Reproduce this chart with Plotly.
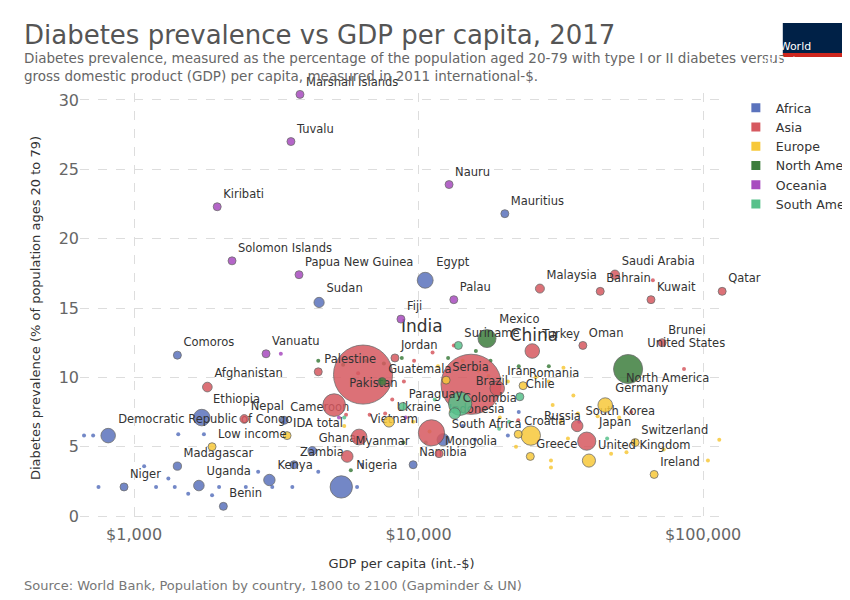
import plotly.graph_objects as go

# labelled countries: name, continent, gdp per capita, diabetes %, population (millions)
names = ["Marshall Islands", "Tuvalu", "Nauru", "Mauritius", "Kiribati", "Solomon Islands",
         "Papua New Guinea", "Egypt", "Saudi Arabia", "Malaysia", "Bahrain", "Kuwait", "Qatar",
         "Sudan", "Palau", "Fiji", "Mexico", "Suriname", "Turkey", "Oman", "Brunei", "Comoros",
         "Vanuatu", "India", "Jordan", "China", "United States", "Afghanistan", "Palestine",
         "Guatemala", "Serbia", "Iran", "Romania", "Pakistan", "Chile", "Germany", "Paraguay",
         "Brazil", "Colombia", "Ethiopia", "Nepal", "Cameroon", "Ukraine", "Indonesia",
         "South Korea", "Russia", "Croatia", "Japan", "Vietnam", "South Africa", "Mongolia",
         "Switzerland", "Greece", "United Kingdom", "Ireland", "Namibia",
         "Democratic Republic of Congo", "IDA total", "Low income", "Ghana", "Madagascar",
         "Zambia", "Myanmar", "Kenya", "Nigeria", "Niger", "Uganda", "Benin"]
continents = ["Oceania", "Oceania", "Oceania", "Africa", "Oceania", "Oceania",
              "Oceania", "Africa", "Asia", "Asia", "Asia", "Asia", "Asia",
              "Africa", "Oceania", "Oceania", "North America", "South America", "Asia", "Asia", "Asia", "Africa",
              "Oceania", "Asia", "Asia", "Asia", "North America", "Asia", "Asia",
              "North America", "Europe", "Asia", "Europe", "Asia", "South America", "Europe", "South America",
              "South America", "South America", "Africa", "Asia", "Africa", "Europe", "Asia",
              "Asia", "Europe", "Europe", "Asia", "Asia", "Africa", "Asia",
              "Europe", "Europe", "Europe", "Europe", "Africa",
              "Africa", "Europe", "Europe", "Africa", "Africa",
              "Africa", "Asia", "Africa", "Africa", "Africa", "Africa", "Africa"]
gdp = [3830, 3560, 12800, 20100, 1960, 2210,
       3800, 10550, 49000, 26700, 43500, 65600, 116700,
       4470, 13300, 8670, 17400, 13800, 25100, 37800, 71800, 1420,
       2910, 6380, 8260, 15300, 54500, 1810, 4440,
       7450, 12500, 18900, 23300, 5050, 22700, 45300, 8800,
       14000, 13400, 1730, 2440, 3370, 7870, 11100,
       36100, 24800, 22400, 39000, 6180, 12200, 11800,
       57700, 24700, 39700, 67300, 9570,
       811, 3450, 1880, 4230, 1420,
       3650, 5610, 2990, 5350, 922, 1690, 2060]
diabetes = [30.4, 27.0, 23.9, 21.8, 22.3, 18.4,
            17.4, 17.0, 17.4, 16.4, 16.2, 15.6, 16.2,
            15.4, 15.6, 14.2, 12.8, 12.3, 11.9, 12.3, 12.5, 11.6,
            11.7, 10.2, 11.4, 9.5, 10.6, 9.3, 10.4,
            9.7, 9.8, 9.2, 9.4, 8.0, 8.6, 8.0, 7.9,
            8.1, 7.4, 7.1, 7.0, 6.9, 6.8, 6.0,
            6.5, 5.8, 5.9, 5.4, 5.7, 5.5, 4.5,
            5.3, 4.3, 4.0, 3.0, 3.7,
            5.8, 5.8, 5.0, 4.7, 3.6,
            3.7, 4.3, 2.6, 2.1, 2.1, 2.2, 0.7]
population = [0.05, 0.01, 0.01, 1.3, 0.1, 0.6,
              8.3, 97, 33, 31, 1.5, 4.1, 2.6,
              40, 0.02, 0.9, 125, 0.6, 81, 4.6, 0.4, 0.8,
              0.3, 1339, 9.7, 1386, 325, 36, 4.7,
              17, 7.0, 81, 19.6, 197, 18, 82, 6.8,
              209, 49, 105, 29, 24, 44, 264,
              51, 144, 4.1, 127, 95, 57, 3.1,
              8.5, 10.7, 66, 4.8, 2.5,
              81, 2, 2, 29, 26,
              17, 53, 50, 191, 21, 43, 11]

# unlabelled small countries
small_cont = (["Africa"] * 23 + ["Asia"] * 14 + ["Europe"] * 27 + ["North America"] * 12
              + ["Oceania"] * 4 + ["South America"] * 6)
small_gdp = [667, 718, 1085, 1195, 1390, 1550, 1880, 1990, 2470, 2730, 3060, 3600, 4440, 6080,
             6330, 1320, 750, 1430, 1760, 20600, 15800, 22500, 14300,
             6730, 7630, 8080, 9640, 11200, 13300, 22400, 55900, 66600, 85700, 17300, 5560, 6130, 8880,
             11700, 14300, 16200, 17600, 20600, 25800, 28700, 32300, 35000, 29600, 31600, 36300, 42600,
             50700, 29200, 29200, 33500, 47500, 53800, 72700, 114000, 104000, 5480, 9570, 10930, 22000,
             19300, 8840, 5780,
             4440, 5430, 6530, 7550, 8730, 12700, 15900, 22500, 28700, 17900, 9010, 5250,
             3280, 36700, 46000, 5480,
             11400, 19200, 20800, 10600, 18800, 24300]
small_diab = [5.8, 5.8, 3.6, 2.1, 2.1, 1.6, 1.5, 2.1, 2.1, 3.2, 2.1, 2.1, 3.2, 2.1,
              3.7, 2.7, 2.1, 5.9, 5.9, 5.8, 5.5, 7.5, 6.5,
              7.3, 7.4, 8.4, 11.2, 11.8, 12.3, 6.9, 7.5, 17.0, 10.6, 10.5, 7.3, 10.3, 9.7,
              10.8, 11.2, 10.5, 10.1, 9.7, 10.0, 9.7, 10.7, 8.7, 8.0, 6.8, 7.4, 7.2,
              7.1, 4.0, 3.5, 5.6, 4.5, 4.6, 4.8, 5.5, 4.0, 6.5, 6.8, 6.1, 5.0,
              7.1, 5.3, 3.3,
              11.2, 10.9, 11.2, 11.0, 11.4, 11.4, 11.9, 10.8, 10.8, 11.2, 7.1, 7.1,
              11.7, 6.8, 5.6, 7.1,
              8.4, 6.3, 6.8, 5.3, 5.2, 8.1]

colors = {"Africa": "#5B73BD", "Asia": "#D65960", "Europe": "#F7C83A",
          "North America": "#3E7E3E", "Oceania": "#A84BBF", "South America": "#58C18B"}
big_labels = {"India", "China"}

sizeref = 1.5 * 2 * 1400 / (74 ** 2)
fig = go.Figure()

for cont, col in colors.items():
    xs = [g for g, c in zip(small_gdp, small_cont) if c == cont]
    ys = [d for d, c in zip(small_diab, small_cont) if c == cont]
    fig.add_trace(go.Scatter(x=xs, y=ys, mode="markers", showlegend=False, hoverinfo="skip",
                             marker=dict(color=col, size=4, opacity=0.85, line=dict(width=0))))

for cont, col in colors.items():
    idx = [i for i, c in enumerate(continents) if c == cont]
    fig.add_trace(go.Scatter(
        x=[gdp[i] for i in idx], y=[diabetes[i] for i in idx], mode="markers+text",
        text=[names[i] for i in idx], textposition="top right", showlegend=False,
        cliponaxis=False,
        textfont=dict(size=[17 if names[i] in big_labels else 11.5 for i in idx], color="#333"),
        marker=dict(color=col, size=[population[i] for i in idx], sizemode="area",
                    sizeref=sizeref, sizemin=4, opacity=0.85,
                    line=dict(color="#555", width=0.8))))
    fig.add_trace(go.Scatter(x=[None], y=[None], mode="markers", name=cont,
                             marker=dict(color=col, symbol="square", size=9)))

fig.add_annotation(x=4.736, y=10.6, xref="x", yref="y", text="North America", showarrow=False,
                   xanchor="left", yanchor="top", xshift=-4, font=dict(size=11.5, color="#333"))

fig.update_xaxes(type="log", range=[2.81, 5.07], tickvals=[1000, 10000, 100000],
                 ticktext=["$1,000", "$10,000", "$100,000"], tickfont=dict(size=16, color="#666"),
                 showgrid=True, gridcolor="#ddd", griddash="dash", zeroline=False,
                 title=dict(text="GDP per capita (int.-$)", font=dict(size=13, color="#333")))
fig.update_yaxes(range=[-0.5, 30.5], tickvals=[0, 5, 10, 15, 20, 25, 30], ticksuffix="%",
                 tickfont=dict(size=16, color="#666"), showgrid=True, gridcolor="#ddd",
                 griddash="dash", zeroline=False,
                 title=dict(text="Diabetes prevalence (% of population ages 20 to 79)",
                            font=dict(size=13, color="#333")))

fig.add_annotation(xref="paper", yref="paper", x=-0.09, y=1.175, xanchor="left", yanchor="top",
                   showarrow=False, align="left",
                   text="Diabetes prevalence vs GDP per capita, 2017",
                   font=dict(size=26, color="#555", family="DejaVu Sans"))
fig.add_annotation(xref="paper", yref="paper", x=-0.09, y=1.105, xanchor="left", yanchor="top",
                   showarrow=False, align="left",
                   text="Diabetes prevalence, measured as the percentage of the population aged 20-79 with type I or II diabetes versus<br>gross domestic product (GDP) per capita, measured in 2011 international-$.",
                   font=dict(size=13.5, color="#666", family="DejaVu Sans"))
fig.add_annotation(xref="paper", yref="paper", x=-0.09, y=-0.146, xanchor="left", yanchor="middle",
                   showarrow=False, text="Source: World Bank, Population by country, 1800 to 2100 (Gapminder & UN)",
                   font=dict(size=13, color="#777", family="DejaVu Sans"))

# logo
fig.add_shape(type="rect", xref="paper", yref="paper", x0=1.093, x1=1.187, y0=1.093, y1=1.163,
              fillcolor="#002147", line=dict(width=0))
fig.add_shape(type="rect", xref="paper", yref="paper", x0=1.093, x1=1.187, y0=1.084, y1=1.093,
              fillcolor="#CE261E", line=dict(width=0))
fig.add_annotation(xref="paper", yref="paper", x=1.14, y=1.128, showarrow=False,
                   text="Our World<br>in Data", font=dict(size=11, color="white", family="DejaVu Sans"))

fig.update_layout(width=850, height=600, plot_bgcolor="white", paper_bgcolor="white",
                  margin=dict(l=72, r=135, t=85, b=85, autoexpand=False),
                  font=dict(family="DejaVu Sans"),
                  legend=dict(x=1.02, y=1.0, xanchor="left", yanchor="top",
                              font=dict(size=12.5, color="#333"), itemwidth=30,
                              tracegroupgap=0))
fig.write_html("out.html")
